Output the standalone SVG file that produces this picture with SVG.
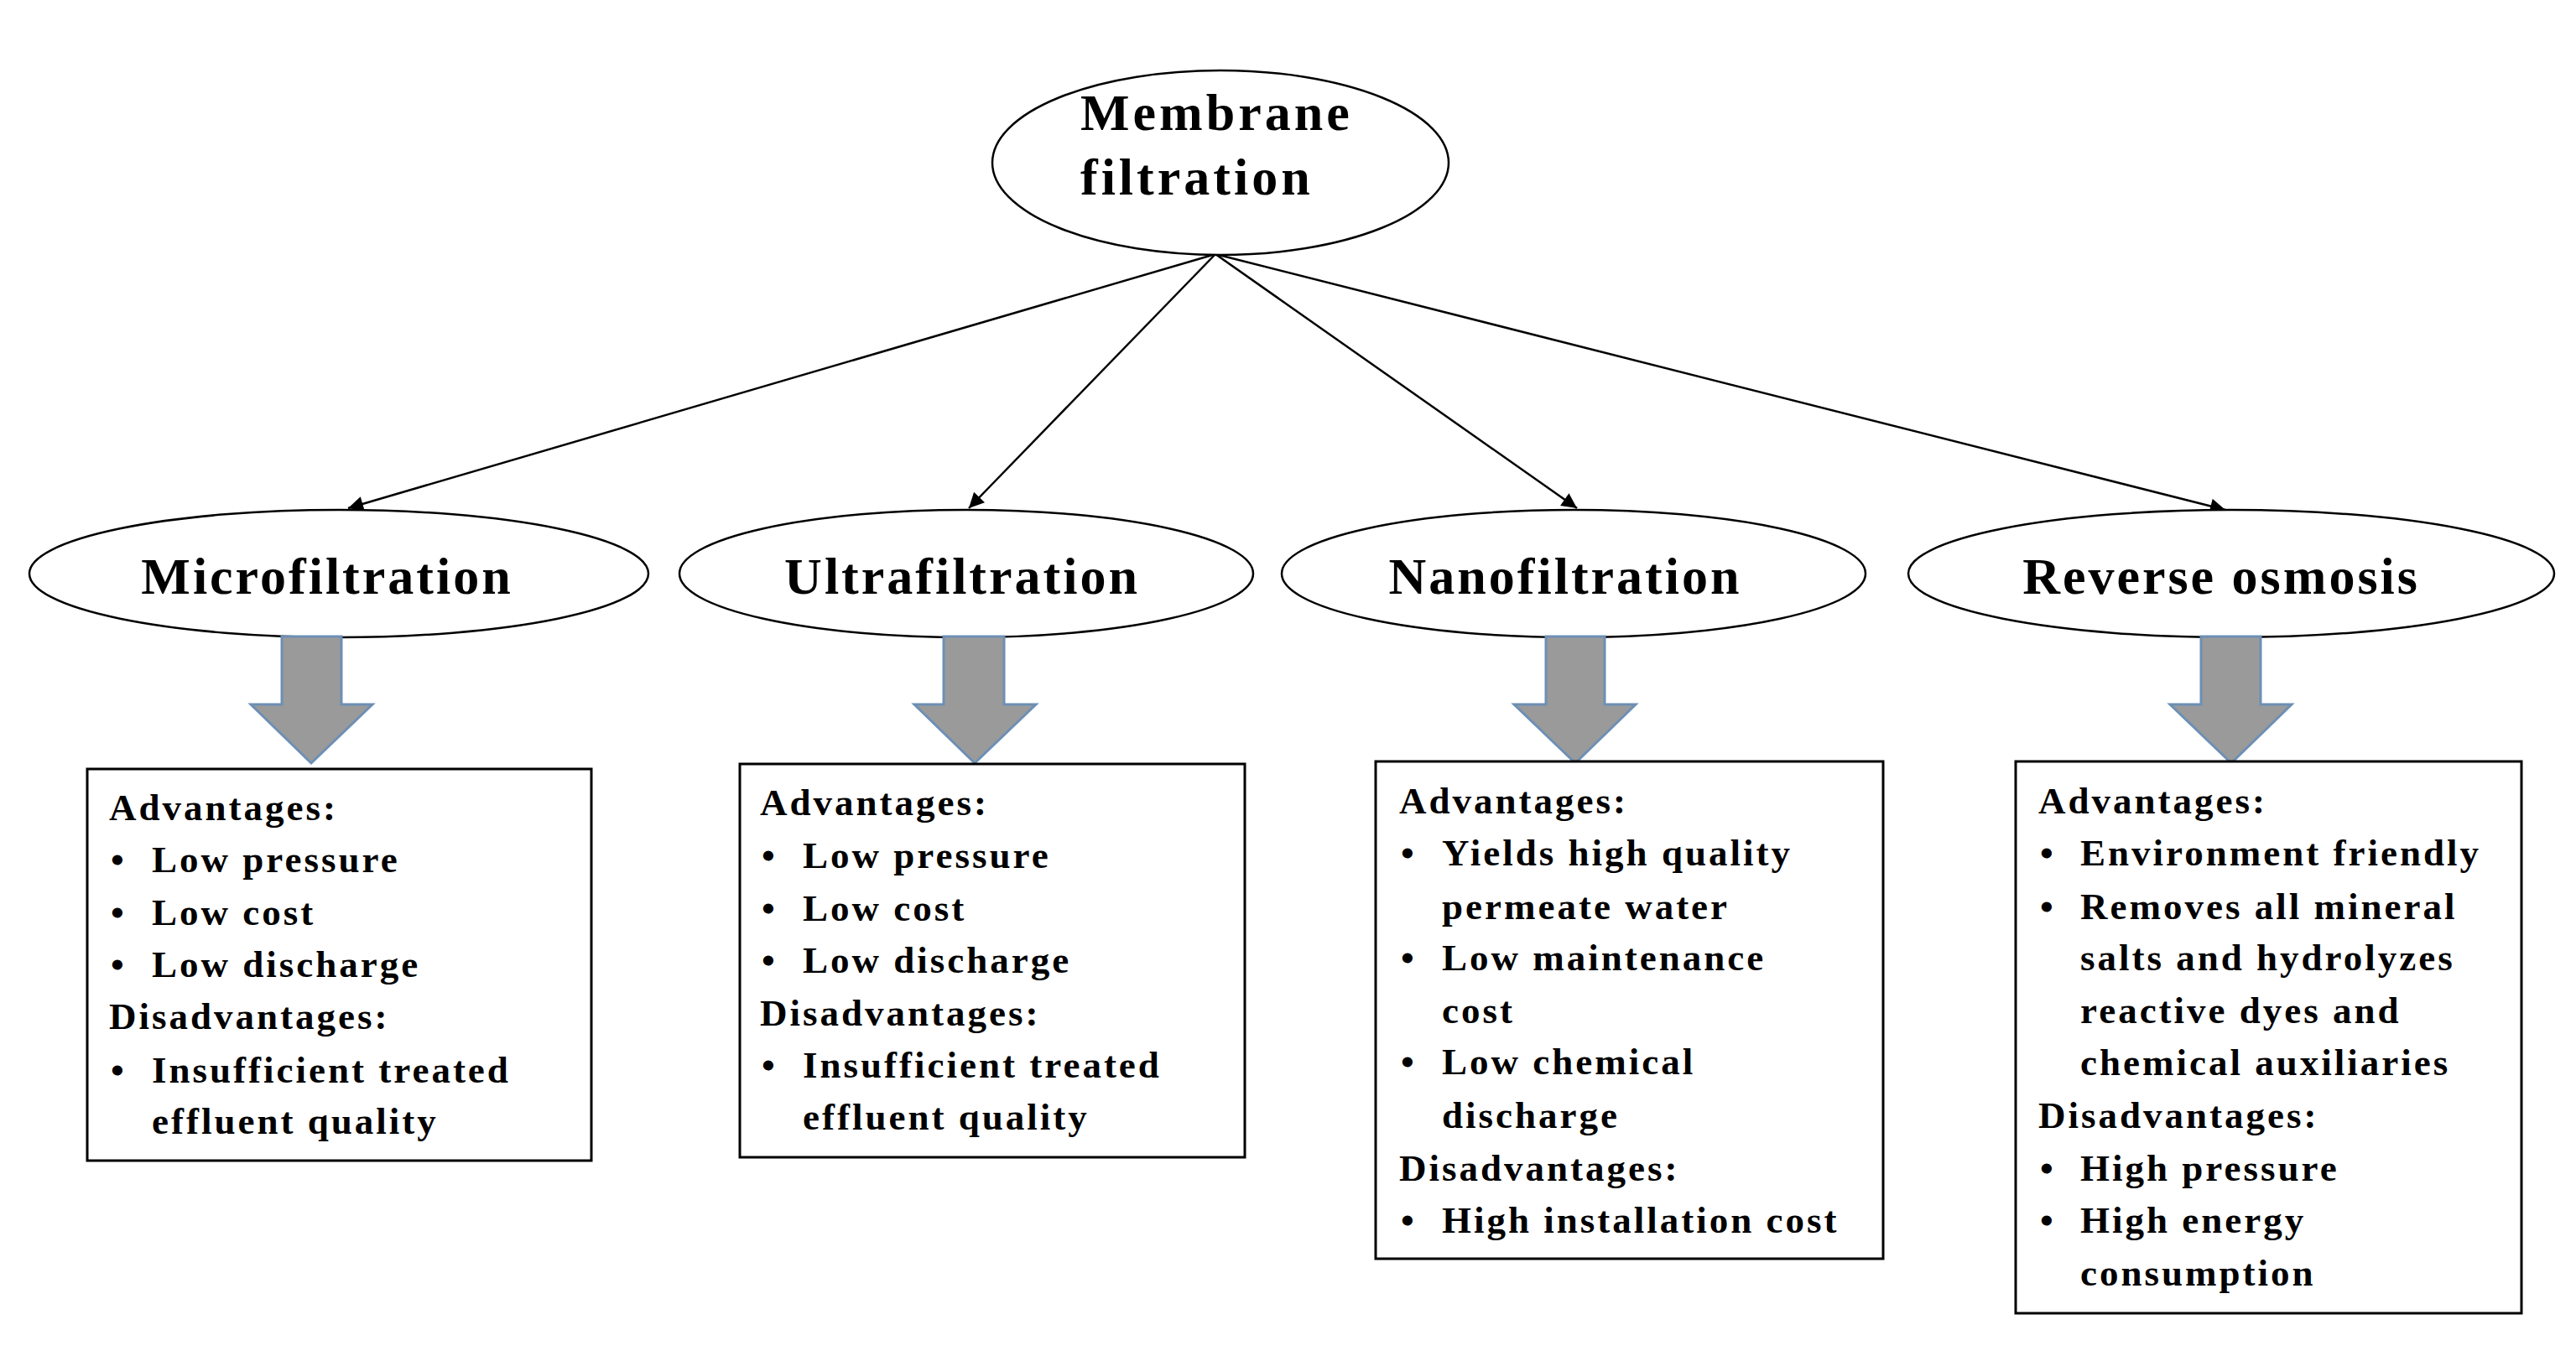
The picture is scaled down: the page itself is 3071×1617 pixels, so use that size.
<svg xmlns="http://www.w3.org/2000/svg" width="3071" height="1617" viewBox="0 0 3071 1617">
<style>
.e{fill:#fff;stroke:#000;stroke-width:2.5}
.b{fill:#fff;stroke:#000;stroke-width:3}
.t{font-family:"Liberation Serif",serif;font-weight:bold;fill:#000}
.h{font-size:62px;letter-spacing:3px}
.r{font-size:62px;letter-spacing:4px}
.s{font-size:45px;letter-spacing:3px}
.c{stroke:#000;stroke-width:2.5;fill:none;marker-end:url(#m)}
.a{fill:#9a9a9a;stroke:#6d8fb5;stroke-width:3}
</style>
<defs><marker id="m" viewBox="0 0 10 10" refX="10" refY="5" markerWidth="20" markerHeight="18" markerUnits="userSpaceOnUse" orient="auto"><path d="M0,0L10,5L0,10z" fill="#000"/></marker></defs>
<g id="connectors">
<line class="c" x1="1449" y1="303" x2="415" y2="606"/>
<line class="c" x1="1449" y1="303" x2="1155" y2="606"/>
<line class="c" x1="1449" y1="303" x2="1880" y2="606"/>
<line class="c" x1="1449" y1="303" x2="2653" y2="608"/>
</g>
<g id="root"><ellipse class="e" cx="1455" cy="194" rx="272" ry="110"/>
<text class="t r" x="1288" y="155">Membrane</text><text class="t r" x="1288" y="232">filtration</text></g>
<g id="micro"><ellipse class="e" cx="404" cy="684" rx="369" ry="76"/><text class="t h" x="390" y="708" text-anchor="middle">Microfiltration</text>
<polygon class="a" points="336,759 407,759 407,840 444,840 371,910 299,840 336,840"/>
<rect class="b" x="104" y="917" width="601" height="467"/>
<g class="t s"><text x="130" y="978">Advantages:</text><text x="132" y="1040">•</text><text x="181" y="1040">Low pressure</text><text x="132" y="1103">•</text><text x="181" y="1103">Low cost</text><text x="132" y="1165">•</text><text x="181" y="1165">Low discharge</text><text x="130" y="1227">Disadvantages:</text><text x="132" y="1291">•</text><text x="181" y="1291">Insufficient treated</text><text x="181" y="1352">effluent quality</text></g></g>
<g id="ultra"><ellipse class="e" cx="1152" cy="684" rx="342" ry="76"/><text class="t h" x="1147" y="708" text-anchor="middle">Ultrafiltration</text>
<polygon class="a" points="1125,759 1197,759 1197,840 1235,840 1162,910 1090,840 1125,840"/>
<rect class="b" x="882" y="911" width="602" height="469"/>
<g class="t s"><text x="906" y="972">Advantages:</text><text x="908" y="1035">•</text><text x="957" y="1035">Low pressure</text><text x="908" y="1098">•</text><text x="957" y="1098">Low cost</text><text x="908" y="1160">•</text><text x="957" y="1160">Low discharge</text><text x="906" y="1223">Disadvantages:</text><text x="908" y="1285">•</text><text x="957" y="1285">Insufficient treated</text><text x="957" y="1347">effluent quality</text></g></g>
<g id="nano"><ellipse class="e" cx="1876" cy="684" rx="348" ry="76"/><text class="t h" x="1866" y="708" text-anchor="middle">Nanofiltration</text>
<polygon class="a" points="1843,759 1913,759 1913,840 1950,840 1878,910 1805,840 1843,840"/>
<rect class="b" x="1640" y="908" width="605" height="593"/>
<g class="t s"><text x="1668" y="970">Advantages:</text><text x="1670" y="1032">•</text><text x="1719" y="1032">Yields high quality</text><text x="1719" y="1096">permeate water</text><text x="1670" y="1157">•</text><text x="1719" y="1157">Low maintenance</text><text x="1719" y="1220">cost</text><text x="1670" y="1281">•</text><text x="1719" y="1281">Low chemical</text><text x="1719" y="1345">discharge</text><text x="1668" y="1408">Disadvantages:</text><text x="1670" y="1470">•</text><text x="1719" y="1470">High installation cost</text></g></g>
<g id="ro"><ellipse class="e" cx="2660" cy="684" rx="385" ry="76"/><text class="t h" x="2648" y="708" text-anchor="middle">Reverse osmosis</text>
<polygon class="a" points="2624,759 2695,759 2695,840 2732,840 2660,910 2587,840 2624,840"/>
<rect class="b" x="2403" y="908" width="603" height="658"/>
<g class="t s"><text x="2430" y="970">Advantages:</text><text x="2432" y="1032">•</text><text x="2480" y="1032">Environment friendly</text><text x="2432" y="1096">•</text><text x="2480" y="1096">Removes all mineral</text><text x="2480" y="1157">salts and hydrolyzes</text><text x="2480" y="1220">reactive dyes and</text><text x="2480" y="1282">chemical auxiliaries</text><text x="2430" y="1345">Disadvantages:</text><text x="2432" y="1408">•</text><text x="2480" y="1408">High pressure</text><text x="2432" y="1470">•</text><text x="2480" y="1470">High energy</text><text x="2480" y="1533">consumption</text></g></g>
</svg>
